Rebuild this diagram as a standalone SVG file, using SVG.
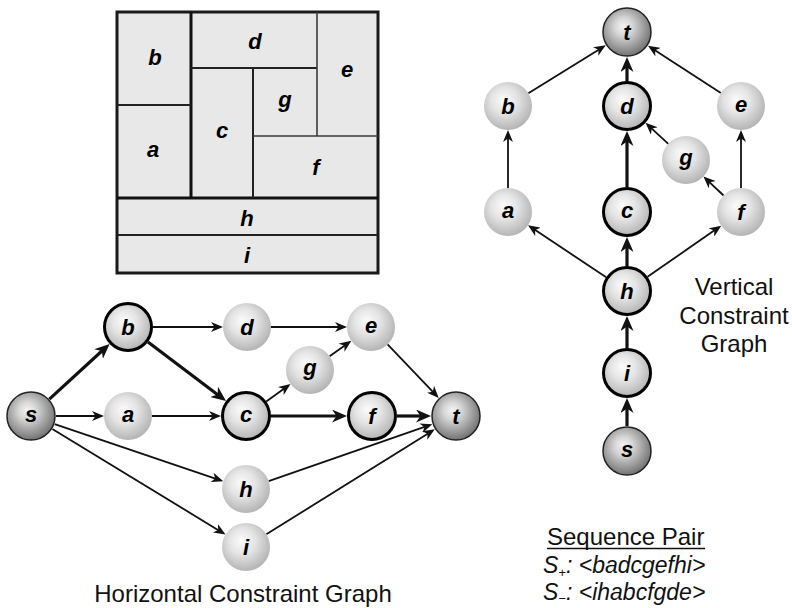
<svg xmlns="http://www.w3.org/2000/svg" width="792" height="608" viewBox="0 0 792 608">
<defs>
<radialGradient id="gl" cx="0.45" cy="0.42" r="0.6" fx="0.4" fy="0.36">
<stop offset="0" stop-color="#fbfbfb"/><stop offset="0.45" stop-color="#e4e4e4"/><stop offset="1" stop-color="#b2b2b2"/>
</radialGradient>
<radialGradient id="gd" cx="0.45" cy="0.42" r="0.62" fx="0.42" fy="0.38">
<stop offset="0" stop-color="#f4f4f4"/><stop offset="0.3" stop-color="#d6d6d6"/><stop offset="1" stop-color="#6a6a6a"/>
</radialGradient>
<marker id="ah" markerUnits="userSpaceOnUse" markerWidth="12" markerHeight="10" viewBox="0 0 12 10" refX="6" refY="5" orient="auto"><path d="M0,0 L12,5 L0,10 L3.5,5 z" fill="#111"/></marker>
<marker id="ahk" markerUnits="userSpaceOnUse" markerWidth="15" markerHeight="13" viewBox="0 0 15 13" refX="7.5" refY="6.5" orient="auto"><path d="M0,0 L15,6.5 L0,13 L4.5,6.5 z" fill="#111"/></marker>
</defs>
<style>
.fp{fill:#e8e8e8;stroke:#1a1a1a;stroke-width:3}
.fk{stroke:#111;stroke-width:3;fill:none}
.ft{stroke:#222;stroke-width:2;fill:none}
.fl{stroke:#3a3a3a;stroke-width:1.6;fill:none}
.lb{font-family:"Liberation Sans",Arial,sans-serif;font-style:italic;font-weight:bold;font-size:22px;fill:#000;text-anchor:middle}
.cap{font-family:"Liberation Sans",Arial,sans-serif;font-size:24px;fill:#111;text-anchor:middle}
.e{stroke:#111;stroke-width:1.8;fill:none;marker-end:url(#ah)}
.ek{stroke:#111;stroke-width:3.2;fill:none;marker-end:url(#ahk)}
.n{fill:url(#gl)}
.nb{fill:url(#gl);stroke:#000;stroke-width:3}
.nd{fill:url(#gd);stroke:#222;stroke-width:1.5}
</style>

<g id="floorplan">
<rect class="fp" x="117" y="12" width="261" height="261"/>
<line class="fk" x1="191" y1="12" x2="191" y2="198"/>
<line class="fk" x1="117" y1="198" x2="378" y2="198"/>
<line class="ft" x1="117" y1="105" x2="191" y2="105"/>
<line class="ft" x1="191" y1="68" x2="317" y2="68"/>
<line class="fl" x1="317" y1="12" x2="317" y2="136"/>
<line class="ft" x1="253" y1="68" x2="253" y2="198"/>
<line class="fl" x1="253" y1="136" x2="378" y2="136"/>
<line class="ft" x1="117" y1="235" x2="378" y2="235"/>
<text class="lb" x="155" y="65">b</text>
<text class="lb" x="255" y="49">d</text>
<text class="lb" x="347" y="77">e</text>
<text class="lb" x="285" y="107">g</text>
<text class="lb" x="153" y="157">a</text>
<text class="lb" x="222" y="138">c</text>
<text class="lb" x="316" y="175">f</text>
<text class="lb" x="247" y="226">h</text>
<text class="lb" x="247" y="263">i</text>
</g>

<g id="hcg-edges">
<line class="ek" x1="49.4" y1="399.1" x2="104.05" y2="348.97"/>
<line class="e" x1="56" y1="416" x2="98" y2="416"/>
<line class="e" x1="54.67" y1="424.04" x2="217.6" y2="479.36"/>
<line class="e" x1="52.35" y1="429.01" x2="220.4" y2="531.4"/>
<line class="e" x1="153" y1="327" x2="217" y2="327"/>
<line class="ek" x1="147.96" y1="342.05" x2="220.05" y2="396.43"/>
<line class="e" x1="152" y1="416" x2="215" y2="416"/>
<line class="e" x1="271" y1="327" x2="341" y2="327"/>
<line class="e" x1="266.3" y1="401.41" x2="285.64" y2="387.51"/>
<line class="e" x1="329.62" y1="356.17" x2="346.48" y2="344.29"/>
<line class="ek" x1="271" y1="416" x2="339.5" y2="416"/>
<line class="e" x1="387.58" y1="344.36" x2="434.59" y2="393.58"/>
<line class="ek" x1="397" y1="416" x2="423.5" y2="416"/>
<line class="e" x1="268.67" y1="481.12" x2="426.72" y2="426.18"/>
<line class="e" x1="266.36" y1="534.3" x2="429.7" y2="432.4"/>
</g>

<g id="h-s"><circle class="nd" cx="31" cy="416" r="24"/><text class="lb" x="31" y="422">s</text></g>
<g id="h-b"><circle class="nb" cx="128" cy="327" r="23.5"/><text class="lb" x="128" y="335">b</text></g>
<g id="h-a"><circle class="n" cx="128" cy="416" r="24"/><text class="lb" x="128" y="422">a</text></g>
<g id="h-d"><circle class="n" cx="247" cy="327" r="24"/><text class="lb" x="247" y="335">d</text></g>
<g id="h-e"><circle class="n" cx="371" cy="327" r="24"/><text class="lb" x="371" y="333">e</text></g>
<g id="h-g"><circle class="n" cx="310" cy="370" r="24"/><text class="lb" x="310" y="375">g</text></g>
<g id="h-c"><circle class="nb" cx="246" cy="416" r="23.5"/><text class="lb" x="246" y="422">c</text></g>
<g id="h-f"><circle class="nb" cx="372" cy="416" r="23.5"/><text class="lb" x="372" y="424">f</text></g>
<g id="h-t"><circle class="nd" cx="456" cy="416" r="24"/><text class="lb" x="456" y="424">t</text></g>
<g id="h-h"><circle class="n" cx="246" cy="489" r="24"/><text class="lb" x="246" y="497">h</text></g>
<g id="h-i"><circle class="n" cx="246" cy="547" r="24"/><text class="lb" x="246" y="555">i</text></g>
<text class="cap" x="243" y="602">Horizontal Constraint Graph</text>

<g id="vcg-edges">
<line class="ek" x1="627" y1="426" x2="627" y2="405.5"/>
<line class="ek" x1="627" y1="348" x2="627" y2="323.5"/>
<line class="ek" x1="627" y1="266" x2="627" y2="244.5"/>
<line class="ek" x1="627" y1="187" x2="627" y2="138.5"/>
<line class="ek" x1="627" y1="81" x2="627" y2="64.5"/>
<line class="e" x1="606.17" y1="277.17" x2="533" y2="228.6"/>
<line class="e" x1="647.55" y1="276.76" x2="716.3" y2="229.1"/>
<line class="e" x1="508" y1="188" x2="508" y2="136"/>
<line class="e" x1="528.38" y1="93.33" x2="600.7" y2="48.4"/>
<line class="e" x1="741" y1="188" x2="741" y2="136"/>
<line class="e" x1="720.87" y1="92.93" x2="653" y2="48.9"/>
<line class="e" x1="723.56" y1="195.51" x2="707.8" y2="180.6"/>
<line class="e" x1="668.3" y1="143.8" x2="649.9" y2="126.9"/>
</g>

<g id="v-t"><circle class="nd" cx="627" cy="32" r="24"/><text class="lb" x="627" y="40">t</text></g>
<g id="v-b"><circle class="n" cx="508" cy="106" r="24"/><text class="lb" x="508" y="114">b</text></g>
<g id="v-d"><circle class="nb" cx="627" cy="106" r="23.5"/><text class="lb" x="627" y="114">d</text></g>
<g id="v-e"><circle class="n" cx="741" cy="106" r="24"/><text class="lb" x="741" y="112">e</text></g>
<g id="v-g"><circle class="n" cx="686" cy="160" r="24"/><text class="lb" x="686" y="165">g</text></g>
<g id="v-a"><circle class="n" cx="508" cy="212" r="24"/><text class="lb" x="508" y="218">a</text></g>
<g id="v-c"><circle class="nb" cx="627" cy="212" r="23.5"/><text class="lb" x="627" y="218">c</text></g>
<g id="v-f"><circle class="n" cx="741" cy="212" r="24"/><text class="lb" x="741" y="220">f</text></g>
<g id="v-h"><circle class="nb" cx="627" cy="291" r="23.5"/><text class="lb" x="627" y="299">h</text></g>
<g id="v-i"><circle class="nb" cx="627" cy="373" r="23.5"/><text class="lb" x="627" y="381">i</text></g>
<g id="v-s"><circle class="nd" cx="627" cy="451" r="24"/><text class="lb" x="627" y="457">s</text></g>
<text class="cap" font-size="23" x="734" y="295">Vertical</text>
<text class="cap" font-size="23" x="734" y="324">Constraint</text>
<text class="cap" font-size="23" x="734" y="352">Graph</text>

<g id="sequence-pair" font-family="'Liberation Sans', Arial, sans-serif" fill="#111">
<text x="547" y="545" font-size="24">Sequence Pair</text>
<line x1="547" y1="548.5" x2="705" y2="548.5" stroke="#111" stroke-width="1.6"/>
<text x="543" y="573" font-size="23" font-style="italic">S<tspan font-size="13" dy="4">+</tspan><tspan dy="-4">: &lt;badcgefhi&gt;</tspan></text>
<text x="543" y="600" font-size="23" font-style="italic">S<tspan font-size="13" dy="3">−</tspan><tspan dy="-3">: &lt;ihabcfgde&gt;</tspan></text>
</g>
</svg>
